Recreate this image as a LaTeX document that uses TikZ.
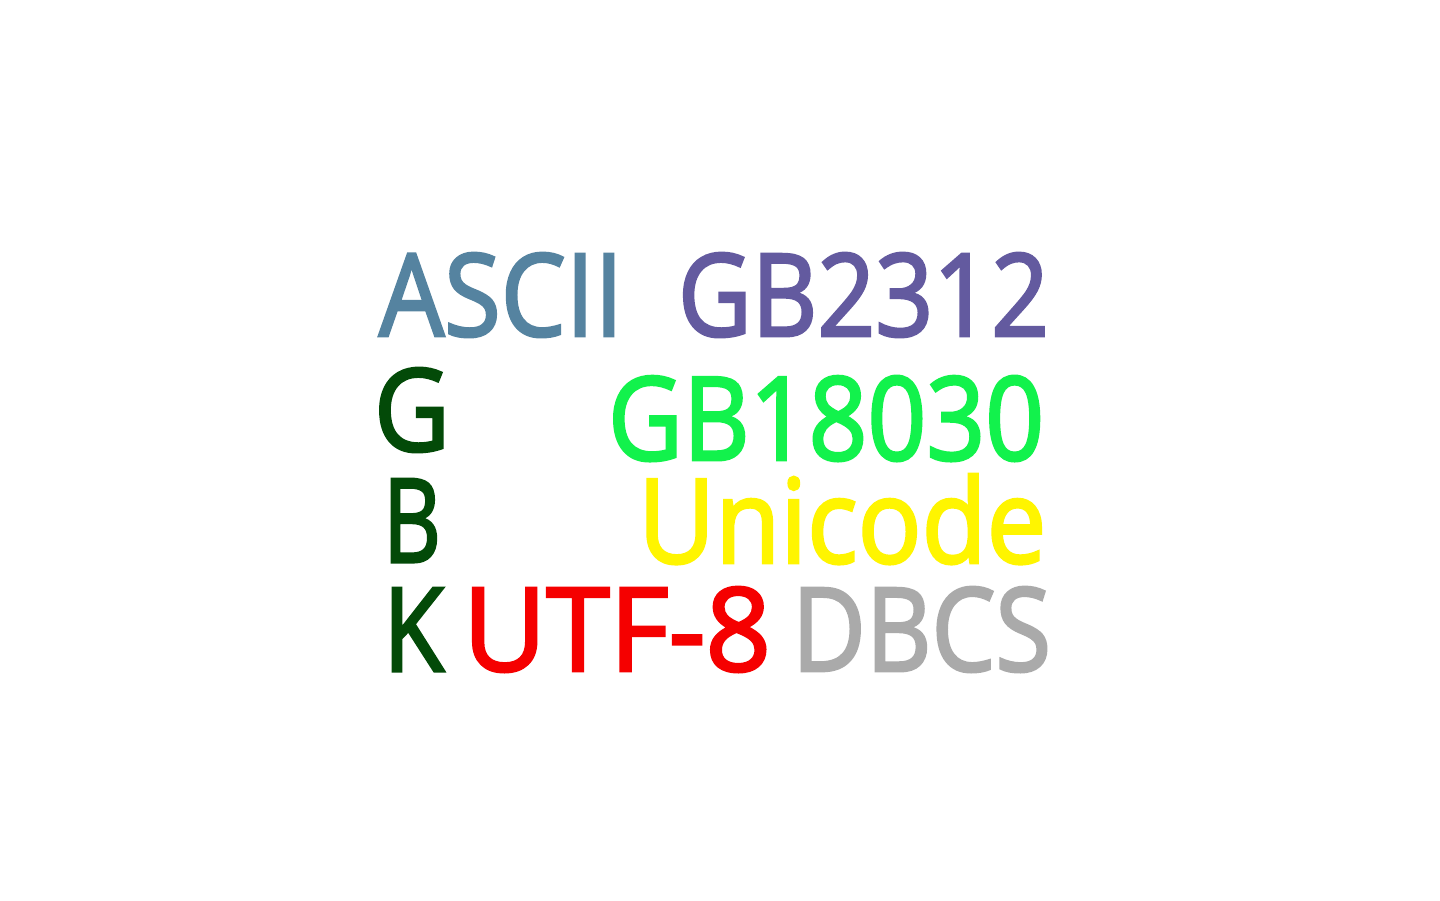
\documentclass[tikz,border=0pt]{standalone}
\usepackage{fontspec}
\setmainfont{Open Sans}
\newfontfamily\wordfont{Open Sans}[FakeBold=2.5]
\usepackage{graphicx}
\definecolor{cAscii}{HTML}{5583A0}
\definecolor{cGb}{HTML}{635A9F}
\definecolor{cDark}{HTML}{034A08}
\definecolor{cBright}{HTML}{12F24C}
\definecolor{cYellow}{HTML}{FFF500}
\definecolor{cRed}{HTML}{F50000}
\definecolor{cGray}{HTML}{AAAAAA}
\newcommand{\fitword}[3]{\resizebox*{#1pt}{#2pt}{\wordfont #3}}
\tikzset{word/.style={inner sep=0pt, outer sep=0pt, anchor=north west}}
\begin{document}
\begin{tikzpicture}[x=1pt,y=-1pt]
\useasboundingbox[fill=white] (0,0) rectangle (1440,900);
\node[word, text=cAscii]  (ascii)   at (379,253) {\fitword{244}{84}{ASCII}};
\node[word, text=cGb]     (gb2312)  at (678,253) {\fitword{371}{84}{GB2312}};
\node[word, text=cDark]   (g)       at (374,368) {\fitword{76}{84}{G}};
\node[word, text=cBright] (gb18030) at (608,376) {\fitword{436}{85}{GB18030}};
\node[word, text=cDark]   (b)       at (383,479) {\fitword{58}{83}{B}};
\node[word, text=cYellow] (unicode) at (638,474) {\fitword{408}{90}{Unicode}};
\node[word, text=cDark]   (k)       at (383,588) {\fitword{61}{83}{K}};
\node[word, text=cRed]    (utf)     at (463,587) {\fitword{308}{85}{UTF-8}};
\node[word, text=cGray]   (dbcs)    at (792,587) {\fitword{259}{85}{DBCS}};
\end{tikzpicture}
\end{document}
